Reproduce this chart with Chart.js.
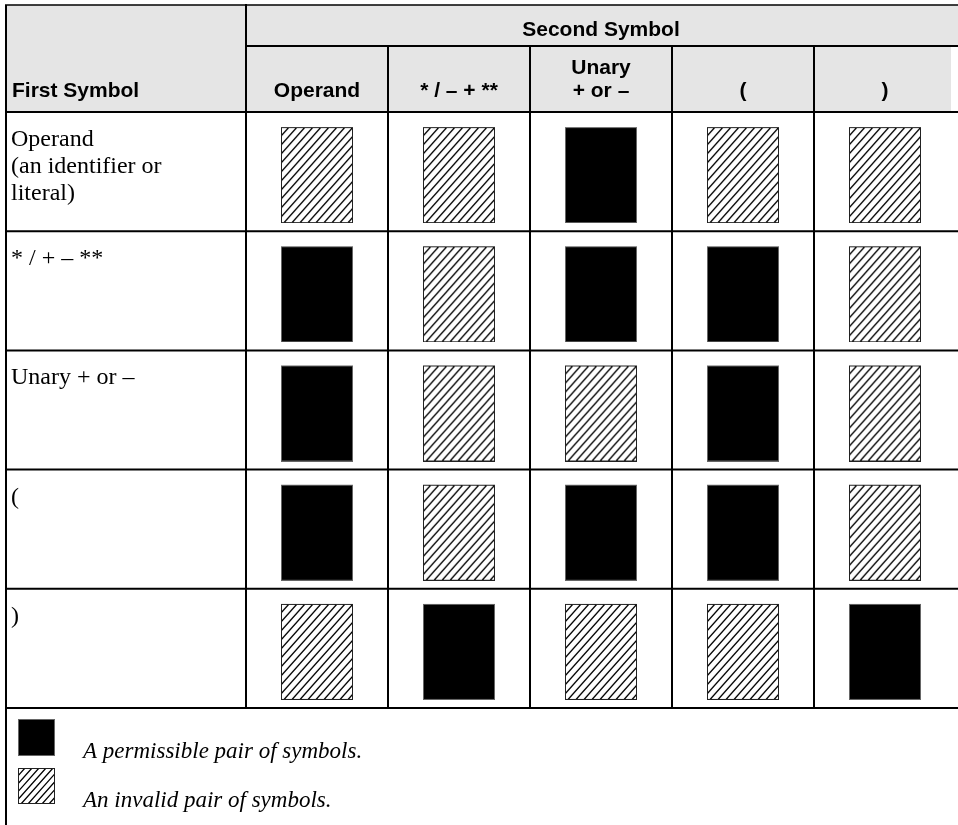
<!DOCTYPE html>
<html>
<head>
<meta charset="utf-8">
<script src="https://cdn.jsdelivr.net/npm/chart.js@4.4.1/dist/chart.umd.min.js"></script>
<style>
  html, body { margin: 0; padding: 0; background: #ffffff; overflow: hidden; }
  #wrap { width: 958px; height: 825px; position: relative; }
  canvas { display: block; }
</style>
</head>
<body>
<div id="wrap"><canvas id="chart" width="958" height="825"></canvas></div>
<script>
// ---------------- data ----------------
const headerFirst = "First Symbol";
const headerSecond = "Second Symbol";
// first symbol of a pair (rows)
const firstSymbols = [["Operand", "(an identifier or", "literal)"], ["* / + – **"], ["Unary + or –"], ["("], [")"]];
// second symbol of a pair (columns)
const secondSymbols = [["Operand"], ["* / – + **"], ["Unary", "+ or –"], ["("], [")"]];
// 1 = permissible pair, 0 = invalid pair (columns follow secondSymbols)
const afterOperand    = [0, 0, 1, 0, 0];
const afterOperator   = [1, 0, 1, 1, 0];
const afterUnary      = [1, 0, 0, 1, 0];
const afterOpenParen  = [1, 0, 1, 1, 0];
const afterCloseParen = [0, 1, 0, 0, 1];
const legendLabels = ["A permissible pair of symbols.", "An invalid pair of symbols."];

// ---------------- build ----------------
const rowsData = [afterOperand, afterOperator, afterUnary, afterOpenParen, afterCloseParen];
const xLabels = secondSymbols.map(l => l.join(" "));
const yLabels = firstSymbols.map(l => l.join(" "));

const permissiblePts = [];
const invalidPts = [];
rowsData.forEach((row, r) => {
  row.forEach((v, c) => {
    (v ? permissiblePts : invalidPts).push({ x: xLabels[c], y: yLabels[r] });
  });
});

function drawHatch(g, x0, y0, w, h, step, lw) {
  g.save();
  g.beginPath();
  g.rect(x0, y0, w, h);
  g.clip();
  g.strokeStyle = "#000";
  g.lineWidth = lw;
  const run = h * 8 / 9;
  g.beginPath();
  for (let k = -run; k < w + step; k += step) {
    g.moveTo(x0 + k, y0 + h);
    g.lineTo(x0 + k + run, y0);
  }
  g.stroke();
  g.restore();
}

function makeSwatch(kind, w, h, padTop, step) {
  const c = document.createElement("canvas");
  c.width = w;
  c.height = h + padTop;
  const g = c.getContext("2d");
  if (kind === "solid") {
    g.fillStyle = "#000";
    g.fillRect(0, padTop, w, h);
    g.strokeStyle = "#666";
    g.lineWidth = 1;
    g.strokeRect(0.5, padTop + 0.5, w - 1, h - 1);
  } else {
    g.fillStyle = "#fff";
    g.fillRect(0, padTop, w, h);
    drawHatch(g, 0, padTop, w, h, step, 1.3);
    g.strokeStyle = "#222";
    g.lineWidth = 1;
    g.strokeRect(0.5, padTop + 0.5, w - 1, h - 1);
  }
  return c;
}

const cellSolid = makeSwatch("solid", 72, 96, 7, 8);
const cellHatch = makeSwatch("hatch", 72, 96, 7, 8);
const legendSolid = makeSwatch("solid", 37, 37, 0, 7);
const legendHatch = makeSwatch("hatch", 37, 36, 0, 7);

const SANS_B = 'bold 21px "Liberation Sans", Arial, Helvetica, sans-serif';
const SERIF = '24px "Liberation Serif", "Times New Roman", serif';
const SERIF_I = 'italic 23px "Liberation Serif", "Times New Roman", serif';

const tablePlugin = {
  id: "tableFrame",
  beforeDatasetsDraw(chart) {
    const ctx = chart.ctx;
    const x = chart.scales.x, y = chart.scales.y;
    const W = chart.width, H = chart.height;
    const L = 6, T = 5, SPLIT = 46;

    const nC = xLabels.length, nR = yLabels.length;
    const colEdges = [x.left];
    for (let i = 0; i < nC - 1; i++) colEdges.push((x.getPixelForValue(i) + x.getPixelForValue(i + 1)) / 2);
    colEdges.push(x.right);
    const rowEdges = [y.top];
    for (let i = 0; i < nR - 1; i++) rowEdges.push((y.getPixelForValue(i) + y.getPixelForValue(i + 1)) / 2);
    rowEdges.push(y.bottom);

    ctx.save();
    // header background
    ctx.fillStyle = "#e5e5e5";
    ctx.fillRect(L, T, W - L, SPLIT - T);
    ctx.fillRect(L, SPLIT, W - 7 - L, y.top - SPLIT);

    // header texts
    ctx.fillStyle = "#000";
    ctx.font = SANS_B;
    ctx.textBaseline = "alphabetic";
    ctx.textAlign = "center";
    ctx.fillText(headerSecond, (x.left + x.right) / 2, 36);
    const hb = y.top - 15;
    secondSymbols.forEach((lines, i) => {
      const cx = x.getPixelForValue(i);
      lines.forEach((t, j) => {
        ctx.fillText(t, cx, hb - (lines.length - 1 - j) * 23);
      });
    });
    ctx.textAlign = "left";
    ctx.fillText(headerFirst, 12, hb);

    // row labels
    ctx.font = SERIF;
    firstSymbols.forEach((lines, r) => {
      const top = rowEdges[r];
      lines.forEach((t, j) => ctx.fillText(t, 11, top + 34 + j * 27));
    });

    // legend
    const lb = y.bottom;
    ctx.drawImage(legendSolid, 18, lb + 11);
    ctx.drawImage(legendHatch, 18, lb + 60);
    ctx.font = SERIF_I;
    ctx.fillText(chart.data.datasets[0].label, 83, lb + 50);
    ctx.fillText(chart.data.datasets[1].label, 83, lb + 99);

    // lines
    ctx.strokeStyle = "#000";
    ctx.lineWidth = 1.5;
    ctx.beginPath();
    ctx.moveTo(L - 1, T); ctx.lineTo(W, T);
    ctx.stroke();
    ctx.lineWidth = 2;
    ctx.beginPath();
    ctx.moveTo(L, T); ctx.lineTo(L, H);
    ctx.moveTo(x.left, T - 1); ctx.lineTo(x.left, y.bottom);
    ctx.moveTo(x.left, SPLIT); ctx.lineTo(W, SPLIT);
    for (let i = 1; i < colEdges.length - 1; i++) {
      ctx.moveTo(colEdges[i], SPLIT); ctx.lineTo(colEdges[i], y.bottom);
    }
    rowEdges.forEach(ry => { ctx.moveTo(L - 1, ry); ctx.lineTo(W, ry); });
    ctx.stroke();
    ctx.restore();
  }
};

new Chart(document.getElementById("chart"), {
  type: "scatter",
  data: {
    datasets: [
      { label: legendLabels[0], data: permissiblePts, pointStyle: cellSolid, pointRadius: 1, pointHoverRadius: 1 },
      { label: legendLabels[1], data: invalidPts, pointStyle: cellHatch, pointRadius: 1, pointHoverRadius: 1 }
    ]
  },
  options: {
    responsive: false,
    animation: false,
    devicePixelRatio: 1,
    events: [],
    layout: { padding: { left: 246, top: 112, right: 0, bottom: 117 } },
    scales: {
      x: { type: "category", labels: xLabels, offset: true, display: false },
      y: { type: "category", labels: yLabels, offset: true, display: false }
    },
    plugins: { legend: { display: false }, tooltip: { enabled: false }, title: { display: false } }
  },
  plugins: [tablePlugin]
});
</script>
</body>
</html>
